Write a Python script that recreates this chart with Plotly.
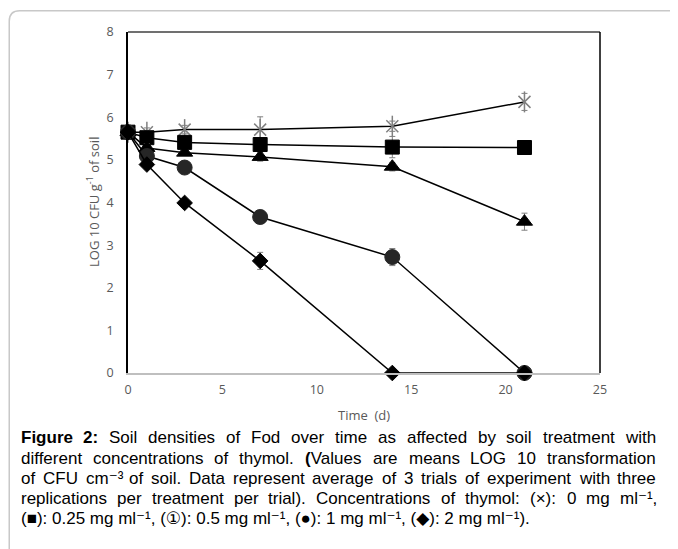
import re
import plotly.graph_objects as go

time_days = [0, 1, 3, 7, 14, 21]

series_names = ["0 mg ml-1", "0.25 mg ml-1", "0.5 mg ml-1", "1 mg ml-1", "2 mg ml-1"]
log_cfu_0 = [5.65, 5.65, 5.71, 5.71, 5.79, 6.36]
log_cfu_025 = [5.65, 5.52, 5.41, 5.36, 5.30, 5.29]
log_cfu_05 = [5.65, 5.28, 5.17, 5.07, 4.84, 3.55]
log_cfu_1 = [5.65, 5.09, 4.82, 3.66, 2.72, 0.0]
log_cfu_2 = [5.65, 4.89, 3.99, 2.63, 0.0, 0.0]

err_0 = [0, 0.1, 0.1, 0.3, 0.12, 0.2]
err_025 = [0, 0.06, 0.05, 0.1, 0.25, 0.05]
err_05 = [0, 0.1, 0.06, 0.1, 0.1, 0.2]
err_1 = [0, 0.1, 0.1, 0.05, 0.2, 0]
err_2 = [0, 0.1, 0.05, 0.2, 0, 0]

x_ticks = [0, 5, 10, 15, 20, 25]
y_ticks = [0, 1, 2, 3, 4, 5, 6, 7, 8]

caption_lines = [
    "<b>Figure</b> <b>2:</b> Soil densities of Fod over time as affected by soil treatment with",
    "different concentrations of thymol. <b>(</b>Values are means LOG 10 transformation",
    "of CFU cm⁻³ of soil. Data represent average of 3 trials of experiment with three",
    "replications per treatment per trial). Concentrations of thymol: (×): 0 mg ml⁻¹,",
    "(■): 0.25 mg ml⁻¹, (①): 0.5 mg ml⁻¹, (●): 1 mg ml⁻¹, (◆): 2 mg ml⁻¹).",
]

# --- page geometry (window pixels; the html body adds an 8px margin) ---
OFF = 8
W, H = 678 - OFF, 549 - OFF
L_PX, R_PX, T_PX, B_PX = 128.3 - OFF, 600.5 - OFF, 31.7 - OFF, 372.7 - OFF


def px(x):
    return (x - OFF - L_PX) / (R_PX - L_PX)


def py(y):
    return (B_PX - (y - OFF)) / (B_PX - T_PX)


# Arial / Liberation Sans advance widths (per 1000 em)
REG = {' ': 278, '!': 278, '(': 333, ')': 333, ',': 278, '-': 333, '.': 278, ':': 278,
       'A': 667, 'B': 667, 'C': 722, 'D': 722, 'E': 667, 'F': 611, 'G': 778, 'H': 722, 'I': 278,
       'J': 500, 'K': 667, 'L': 556, 'M': 833, 'N': 722, 'O': 778, 'P': 667, 'Q': 778, 'R': 722,
       'S': 667, 'T': 611, 'U': 722, 'V': 667, 'W': 944, 'X': 667, 'Y': 667, 'Z': 611,
       'a': 556, 'b': 556, 'c': 500, 'd': 556, 'e': 556, 'f': 278, 'g': 556, 'h': 556, 'i': 222,
       'j': 222, 'k': 500, 'l': 222, 'm': 833, 'n': 556, 'o': 556, 'p': 556, 'q': 556, 'r': 333,
       's': 500, 't': 278, 'u': 556, 'v': 500, 'w': 722, 'x': 500, 'y': 500, 'z': 500, '×': 584,
       '¹': 333, '³': 333, '⁻': 420}
for d in "0123456789":
    REG[d] = 556
BOLD = {'F': 611, 'i': 278, 'g': 611, 'u': 611, 'r': 389, 'e': 556, '2': 556, ':': 333, '(': 333, ' ': 278}


def text_width(rich, size):
    w = 0.0
    bold = False
    for part in re.split(r"(<[^>]+>)", rich):
        if part == "<b>":
            bold = True
        elif part == "</b>":
            bold = False
        elif part:
            for ch in part:
                table = BOLD if bold else REG
                cw = table.get(ch, REG.get(ch, 750))
                w += cw / 1000.0 * size
    return w


styles = [
    (log_cfu_025, err_025, dict(symbol="square", size=14, color="#000000", line=dict(color="#000000", width=1))),
    (log_cfu_05, err_05, dict(symbol="triangle-up", size=14, color="#000000", line=dict(color="#000000", width=1))),
    (log_cfu_1, err_1, dict(symbol="circle", size=15, color="#262626", line=dict(color="#262626", width=1))),
    (log_cfu_2, err_2, dict(symbol="diamond", size=12, color="#000000", line=dict(color="#000000", width=1))),
]

fig = go.Figure()
# control series: star marker (x + vertical bar)
fig.add_trace(go.Scatter(
    x=time_days, y=log_cfu_0, name=series_names[0], mode="lines+markers",
    line=dict(color="#000000", width=1.5),
    marker=dict(symbol="x-thin-open", size=12, color="#808080", line=dict(color="#808080", width=1.5)),
    error_y=dict(type="data", array=err_0, visible=True, color="#7f7f7f", thickness=1, width=3),
    cliponaxis=False, showlegend=False,
))
fig.add_trace(go.Scatter(
    x=time_days, y=log_cfu_0, name=series_names[0], mode="markers",
    marker=dict(symbol="line-ns-open", size=15, color="#808080", line=dict(color="#808080", width=1.5)),
    cliponaxis=False, showlegend=False, hoverinfo="skip",
))
for name, (vals, errs, mk) in zip(series_names[1:], styles):
    fig.add_trace(go.Scatter(
        x=time_days, y=vals, name=name, mode="lines+markers",
        line=dict(color="#000000", width=1.5),
        marker=mk,
        error_y=dict(type="data", array=errs, visible=True, color="#7f7f7f", thickness=1, width=3),
        cliponaxis=False,
        showlegend=False,
    ))

font_axis = "Open Sans, Calibri, Liberation Sans, sans-serif"

fig.update_layout(
    width=W, height=H,
    margin=dict(l=L_PX, r=W - R_PX, t=T_PX, b=H - B_PX, pad=0),
    paper_bgcolor="white", plot_bgcolor="white",
    xaxis=dict(range=[0, 25], tickvals=x_ticks, showgrid=False, zeroline=False,
               showline=True, linecolor="#bfbfbf", linewidth=1.5, ticks="",
               ticklabelstandoff=4,
               tickfont=dict(family=font_axis, size=12.5, color="#595959")),
    yaxis=dict(range=[0, 8], tickvals=y_ticks, showgrid=False, zeroline=False,
               showline=True, linecolor="#000000", linewidth=1.5, ticks="",
               ticklabelstandoff=10,
               tickfont=dict(family=font_axis, size=12.5, color="#595959")),
    shapes=[
        dict(type="line", xref="paper", yref="paper", x0=0, x1=1, y0=1, y1=1,
             line=dict(color="#404040", width=1.5)),
        dict(type="line", xref="paper", yref="paper", x0=1, x1=1, y0=0, y1=1,
             line=dict(color="#000000", width=1.5)),
        dict(type="path", xref="paper", yref="paper",
             path=f"M {px(9.5)} {py(560)} L {px(9.5)} {py(21)} Q {px(9.5)} {py(10.5)} {px(20)} {py(10.5)} L {px(690)} {py(10.5)}",
             line=dict(color="#c8c8c8", width=1.5)),
    ],
    annotations=[
        dict(text="Time  (d)", xref="paper", yref="paper", x=px(364.5), y=py(415),
             showarrow=False, xanchor="center", yanchor="middle",
             font=dict(family=font_axis, size=13, color="#595959")),
        dict(text="LOG 10 CFU g<sup>-1</sup> of soil", xref="paper", yref="paper", x=px(93), y=py(202),
             showarrow=False, xanchor="center", yanchor="middle", textangle=-90,
             font=dict(family=font_axis, size=13, color="#595959")),
    ],
)

# caption, justified word by word (last line left aligned as one text)
CAP_FONT = "Liberation Sans, Arial, DejaVu Sans, sans-serif"
CAP_SIZE = 17
CAP_LEFT, CAP_RIGHT = 20 - OFF, 655 - OFF
caption_baseline = [444, 464.5, 484.5, 504.5, 524.5]
for li, (line, base) in enumerate(zip(caption_lines, caption_baseline)):
    ybottom = base + 0.24 * CAP_SIZE
    yp = (B_PX - (ybottom - OFF)) / (B_PX - T_PX)
    if li == len(caption_lines) - 1:
        fig.add_annotation(text=line, xref="paper", yref="paper",
                           x=(CAP_LEFT - L_PX) / (R_PX - L_PX), y=yp,
                           showarrow=False, xanchor="left", yanchor="bottom", align="left",
                           borderpad=0,
                           font=dict(family=CAP_FONT, size=CAP_SIZE, color="#000000"))
        continue
    words = line.split(" ")
    widths = [text_width(w, CAP_SIZE) for w in words]
    gap = (CAP_RIGHT - CAP_LEFT - sum(widths)) / (len(words) - 1)
    xcur = CAP_LEFT
    for w, wd in zip(words, widths):
        fig.add_annotation(text=w, xref="paper", yref="paper",
                           x=(xcur - L_PX) / (R_PX - L_PX), y=yp,
                           showarrow=False, xanchor="left", yanchor="bottom", align="left",
                           borderpad=0,
                           font=dict(family=CAP_FONT, size=CAP_SIZE, color="#000000"))
        xcur += wd + gap

fig.write_html("out.html")
